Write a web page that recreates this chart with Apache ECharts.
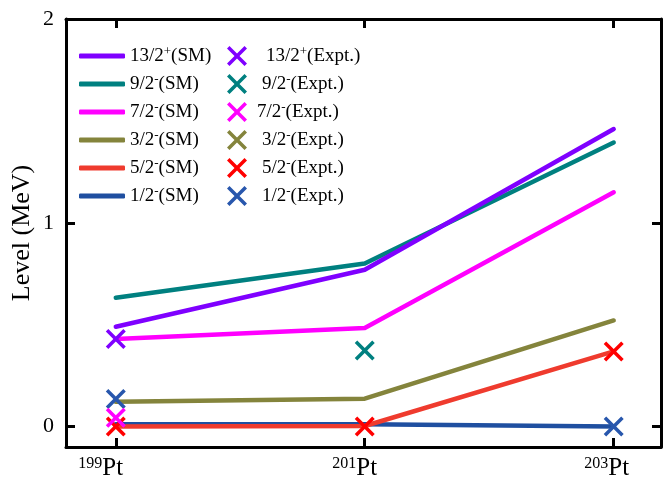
<!DOCTYPE html>
<html>
<head>
<meta charset="utf-8">
<script src="https://cdn.jsdelivr.net/npm/echarts@6/dist/echarts.min.js"></script>
<style>
  html, body { margin: 0; padding: 0; background: #fff; }
  #chart { width: 663px; height: 478px; }
</style>
</head>
<body>
<div id="chart"></div>
<script>
// Isotopes along the x axis (mass numbers of Pt)
const isotopes = ['199', '201', '203'];

// Level spin labels and parities, in legend order
const spins = ['13/2', '9/2', '7/2', '3/2', '5/2', '1/2'];
const parities = ['+', '-', '-', '-', '-', '-'];

// Shell-model level energies (MeV) for 199Pt, 201Pt, 203Pt
const sm13_2 = [0.49, 0.77, 1.46];
const sm9_2 = [0.632, 0.80, 1.394];
const sm7_2 = [0.43, 0.484, 1.15];
const sm3_2 = [0.122, 0.137, 0.521];
const sm5_2 = [0.0, 0.003, 0.369];
const sm1_2 = [0.012, 0.012, 0.0];

// Experimental level energies (MeV); null = not measured
const ex13_2 = [0.43, null, null];
const ex9_2 = [null, 0.373, null];
const ex7_2 = [0.043, null, null];
const ex3_2 = [null, null, null];
const ex5_2 = [0.0, 0.0, 0.369];
const ex1_2 = [0.136, null, 0.0];

const yTicks = [0, 1, 2];

const smSets = [sm13_2, sm9_2, sm7_2, sm3_2, sm5_2, sm1_2];
const exSets = [ex13_2, ex9_2, ex7_2, ex3_2, ex5_2, ex1_2];

const lineColors = ['#7f00ff', '#008080', '#ff00ff', '#84843c', '#ef3b2e', '#1f4fa0'];
const crossColors = ['#7f00ff', '#008080', '#ff00ff', '#84843c', '#ff0000', '#2857ad'];

const crossPath = 'path://M1.25,0 L5,3.75 L8.75,0 L10,1.25 L6.25,5 L10,8.75 L8.75,10 L5,6.25 L1.25,10 L0,8.75 L3.75,5 L0,1.25 Z';

const serif = '"Liberation Serif", "Times New Roman", serif';

const smNames = spins.map((s, i) => s + parities[i] + '(SM)');
const exNames = spins.map((s, i) => s + parities[i] + '(Expt.)');

// Series: lines drawn bottom-up (1/2- first), crosses on top of lines
const series = [];
[5, 4, 3, 2, 1, 0].forEach(i => {
  series.push({
    name: smNames[i],
    type: 'line',
    xAxisIndex: 0, yAxisIndex: 0,
    data: smSets[i].map((v, k) => [k, v]),
    symbol: 'none',
    lineStyle: { color: lineColors[i], width: 4.5, cap: 'round', join: 'round' },
    itemStyle: { color: lineColors[i] },
    z: 2
  });
});
[4, 5, 3, 2, 1, 0].forEach(i => {
  series.push({
    name: exNames[i],
    type: 'scatter',
    xAxisIndex: 0, yAxisIndex: 0,
    data: exSets[i].map((v, k) => [k, v]).filter(p => p[1] !== null),
    symbol: crossPath,
    symbolSize: 20,
    itemStyle: { color: crossColors[i], opacity: 1 },
    z: 3
  });
});

const richBase = {
  t: { fontFamily: serif, fontSize: 19, color: '#000', lineHeight: 20 },
  s: { fontFamily: serif, fontSize: 13, color: '#000', lineHeight: 20, padding: [0, 0, 9, 0] }
};

function richName(name, suffix) {
  const i = spins.findIndex((s, k) => s + parities[k] + suffix === name);
  return { i: i, text: '{t|' + spins[i] + '}{s|' + parities[i] + '}{t|' + suffix + '}' };
}

const exIndent = [14, 10, 5, 10, 10, 10];
// trailing space after each isotope label so "Pt" sits near its tick
const labelTail = [30, 20, 14];

const option = {
  animation: false,
  backgroundColor: '#fff',
  grid: { left: 66, right: 2, top: 19, bottom: 31, containLabel: false, outerBoundsMode: 'none' },
  legend: [
    {
      data: smNames.map((n, i) => ({ name: n, icon: 'roundRect', itemStyle: { color: lineColors[i] } })),
      orient: 'vertical',
      left: 79, top: 45,
      padding: 0,
      itemWidth: 46, itemHeight: 5,
      itemGap: 6.0,
      selectedMode: false,
      textStyle: { rich: richBase, lineHeight: 20 },
      formatter: n => richName(n, '(SM)').text
    },
    {
      data: exNames.map((n, i) => ({ name: n, icon: crossPath, itemStyle: { color: crossColors[i] } })),
      orient: 'vertical',
      left: 227, top: 45,
      padding: 0,
      itemWidth: 20, itemHeight: 20,
      itemGap: 6.0,
      selectedMode: false,
      textStyle: {
        rich: Object.assign({}, richBase,
          { p0: { width: exIndent[0] }, p1: { width: exIndent[1] }, p2: { width: exIndent[2] },
            p3: { width: exIndent[3] }, p4: { width: exIndent[4] }, p5: { width: exIndent[5] } }),
        lineHeight: 20
      },
      formatter: n => {
        const r = richName(n, '(Expt.)');
        return '{p' + r.i + '|}' + r.text;
      }
    }
  ],
  xAxis: [
    {
      type: 'value', min: -0.2, max: 2.19, position: 'bottom',
      axisLine: { show: true, onZero: false, lineStyle: { color: '#000', width: 3 } },
      axisTick: { show: true, inside: true, length: 9, lineStyle: { color: '#000', width: 3 }, customValues: [0, 1, 2] },
      axisLabel: {
        show: true, margin: 9, customValues: [0, 1, 2],
        formatter: v => {
          const k = Math.round(v);
          return '{m|' + isotopes[k] + '}{b|Pt}{g' + k + '|}';
        },
        rich: {
          m: { fontFamily: serif, fontSize: 16, color: '#000', padding: [0, 0, 9, 0] },
          b: { fontFamily: serif, fontSize: 25, color: '#000' },
          g0: { width: labelTail[0] },
          g1: { width: labelTail[1] },
          g2: { width: labelTail[2] }
        }
      },
      splitLine: { show: false }
    },
    {
      type: 'value', min: -0.2, max: 2.19, position: 'top',
      axisLine: { show: true, onZero: false, lineStyle: { color: '#000', width: 3 } },
      axisTick: { show: true, inside: true, length: 9, lineStyle: { color: '#000', width: 3 }, customValues: [0, 1, 2] },
      axisLabel: { show: false },
      splitLine: { show: false }
    }
  ],
  yAxis: [
    {
      type: 'value', min: -0.1, max: 2, position: 'left',
      name: 'Level (MeV)', nameLocation: 'middle', nameGap: 31, nameMoveOverlap: false,
      nameTextStyle: { fontFamily: serif, fontSize: 26, color: '#000' },
      axisLine: { show: true, onZero: false, lineStyle: { color: '#000', width: 3 } },
      axisTick: { show: true, inside: true, length: 9, lineStyle: { color: '#000', width: 3 }, customValues: yTicks },
      axisLabel: { show: true, margin: 12, customValues: yTicks, fontFamily: serif, fontSize: 22, color: '#000' },
      splitLine: { show: false }
    },
    {
      type: 'value', min: -0.1, max: 2, position: 'right',
      axisLine: { show: true, onZero: false, lineStyle: { color: '#000', width: 3 } },
      axisTick: { show: true, inside: true, length: 9, lineStyle: { color: '#000', width: 3 }, customValues: yTicks },
      axisLabel: { show: false },
      splitLine: { show: false }
    }
  ],
  series: series
};

const chart = echarts.init(document.getElementById('chart'), null, { renderer: 'canvas' });
chart.setOption(option);
</script>
</body>
</html>
